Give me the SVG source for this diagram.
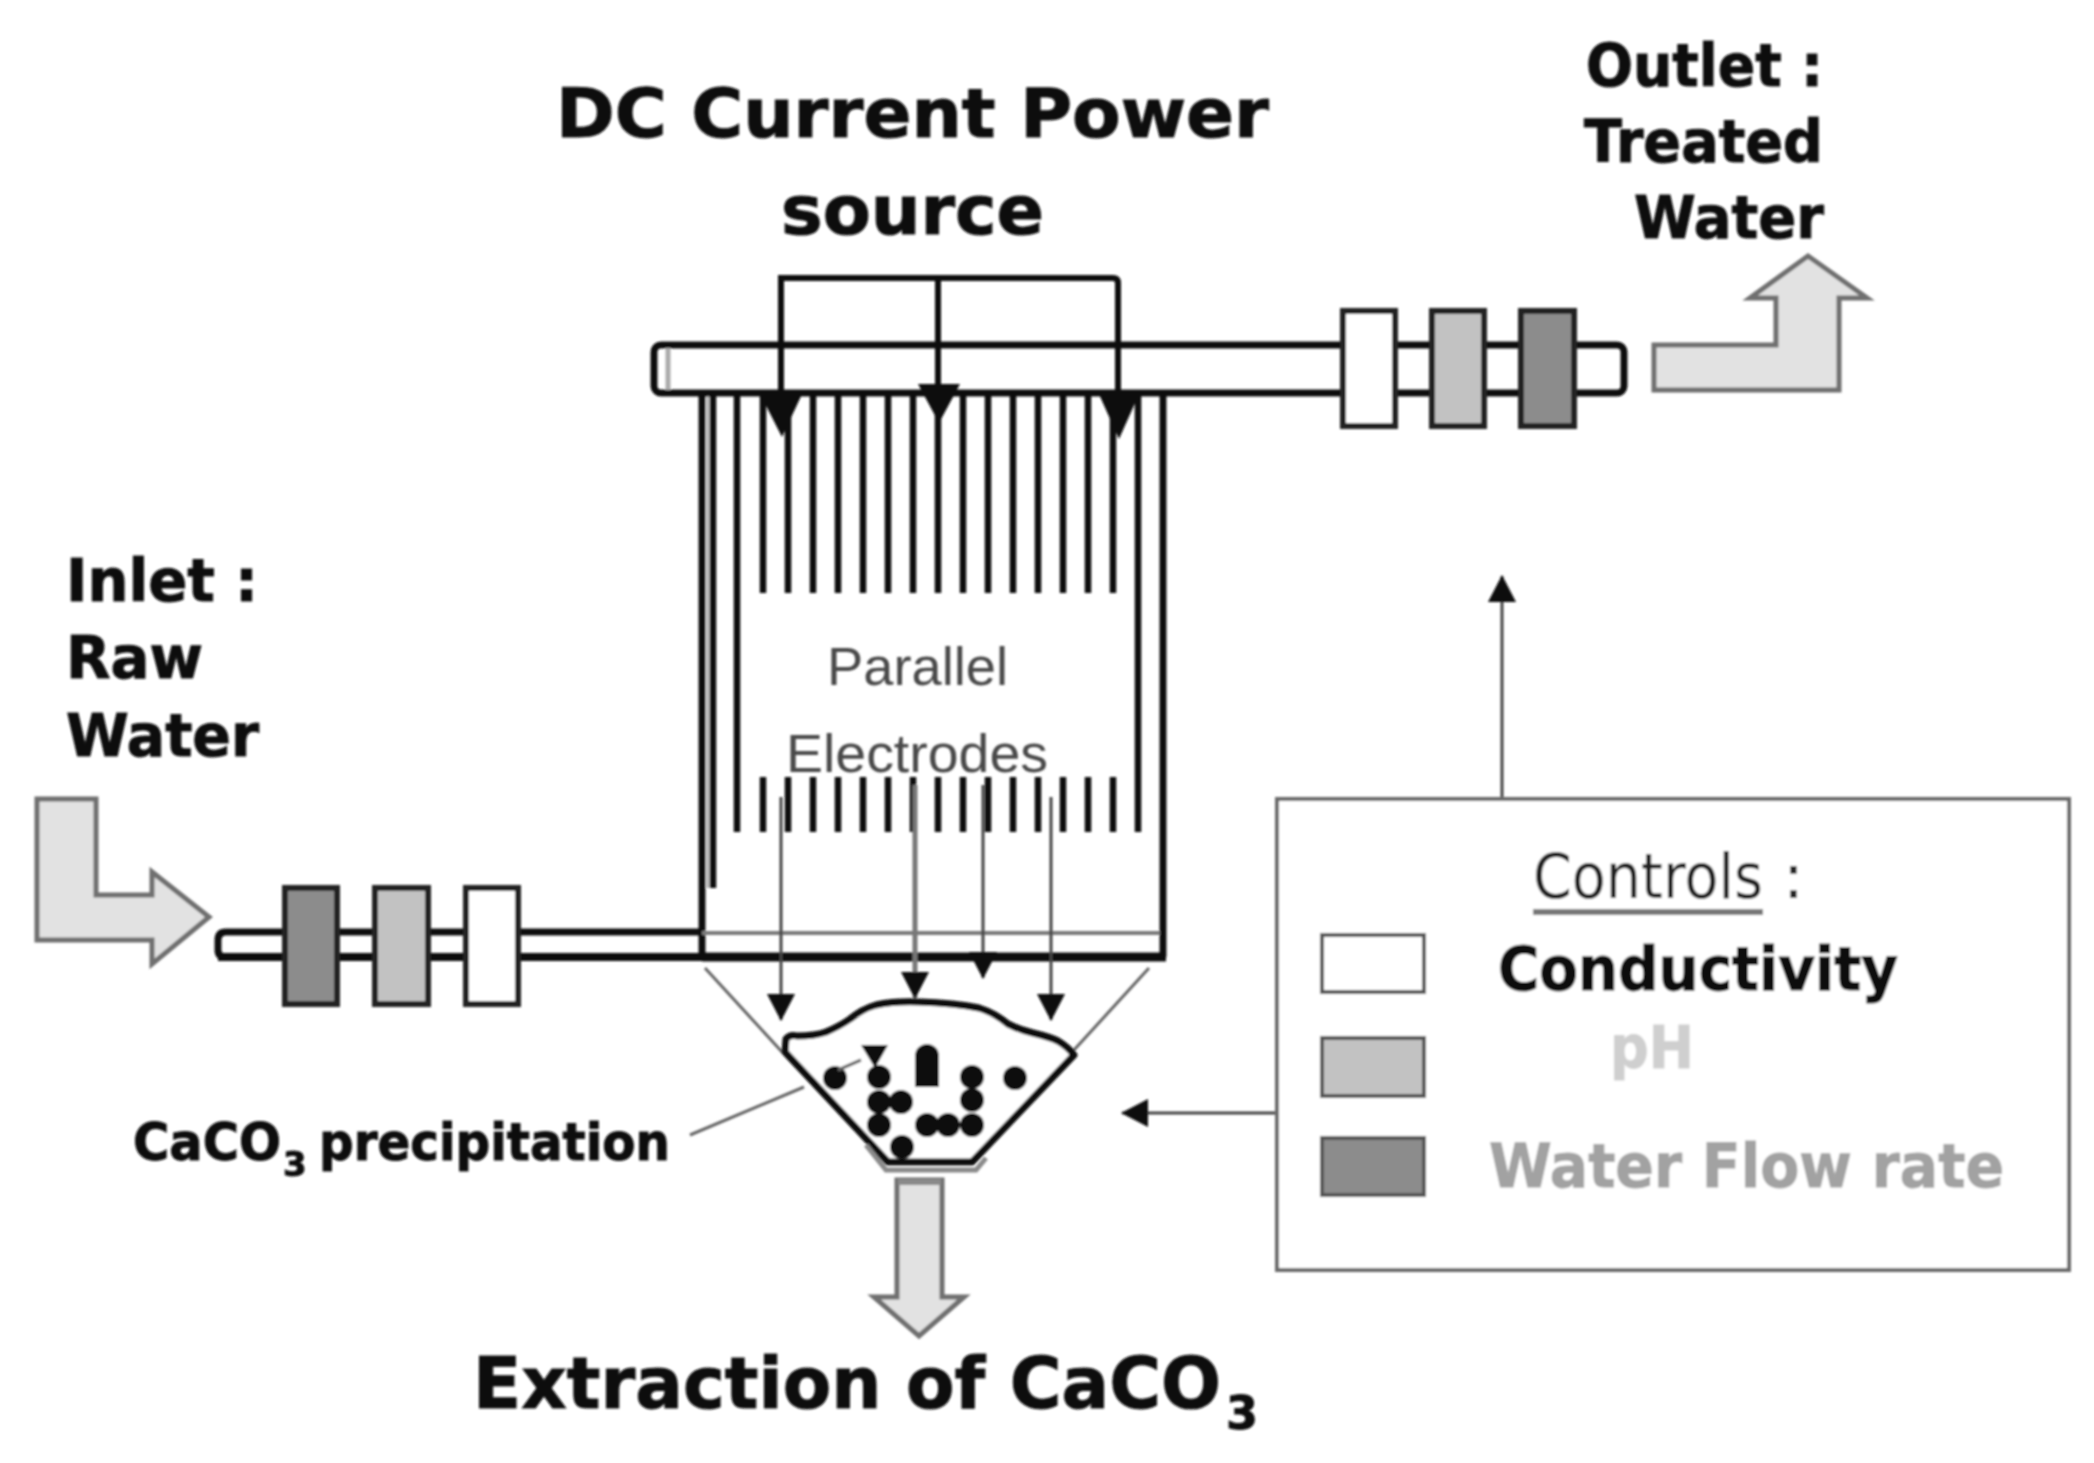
<svg xmlns="http://www.w3.org/2000/svg" width="2094" height="1463" viewBox="0 0 2094 1463">
<style>
.b{font-family:"DejaVu Sans",Verdana,sans-serif;font-weight:700;fill:#111;stroke:#111;stroke-width:1}
.h{font-family:"Liberation Sans",Arial,sans-serif;fill:#4a4a4a;font-size:54px}
.p{fill:none;stroke:#111;stroke-width:7;stroke-linejoin:round}
.e{stroke:#111;stroke-width:6.5;fill:none}
.w{stroke:#111;stroke-width:6;fill:none}
.t{stroke:#444;stroke-width:3;fill:none}
.big{fill:#e2e2e2;stroke:#6f6f6f;stroke-width:5;stroke-linejoin:miter}
.box{stroke:#222;stroke-width:6}
.s{stroke:#555;stroke-width:4}
.wh{fill:#fff}.gr{fill:#c2c2c2}.dk{fill:#8c8c8c}
</style>
<defs>
<filter id="soft" x="0" y="0" width="100%" height="100%" filterUnits="userSpaceOnUse"><feGaussianBlur stdDeviation="1.1"/></filter>
<marker id="ah" markerUnits="userSpaceOnUse" markerWidth="30" markerHeight="28" refX="26" refY="14" orient="auto"><path d="M0 0L27 14L0 28Z" fill="#111"/></marker>
</defs>
<rect width="2094" height="1463" fill="#fff"/>
<g filter="url(#soft)">
<g id="tank">
<path class="p" d="M702 392V957"/>
<path class="p" d="M1163 392V957"/>
<path d="M708 392V888" stroke="#b5b5b5" stroke-width="3"/>
<path class="e" d="M713 392V888M737 392V832M1138 392V832"/>
<path class="e" d="M763 392V593M788 392V593M813 392V593M838 392V593M863 392V593M888 392V593M913 392V593M938 392V593M963 392V593M988 392V593M1013 392V593M1038 392V593M1063 392V593M1088 392V593M1113 392V593"/>
<path class="e" d="M763 777V832M788 777V832M813 777V832M838 777V832M863 777V832M888 777V832M913 777V832M938 777V832M963 777V832M988 777V832M1013 777V832M1038 777V832M1063 777V832M1088 777V832M1113 777V832"/>
<path d="M702 933H1160" stroke="#7a7a7a" stroke-width="4"/>
<path d="M705 968L783 1053M1149 968L1074 1050" stroke="#666" stroke-width="3"/>
</g>
<g id="sediment">
<path d="M785 1052L786 1039Q790 1034 797 1036Q815 1036 826 1032Q840 1026 850 1019Q862 1009 876 1005Q895 1001 919 1002Q955 1003 979 1008Q995 1013 1008 1024Q1020 1030 1033 1033Q1050 1037 1058 1041Q1068 1047 1074 1055L972 1162H888Z" fill="#fff" stroke="#111" stroke-width="7" stroke-linejoin="round"/>
<path d="M866 1145L886 1170H976L986 1158" fill="none" stroke="#8a8a8a" stroke-width="5"/>
<path d="M861 1045H888L875 1068Z" fill="#111"/>
<g fill="#111">
<circle cx="835" cy="1078" r="12"/><circle cx="1015" cy="1078" r="12"/>
<circle cx="927" cy="1056" r="12"/><rect x="915" y="1056" width="24" height="31"/>
<circle cx="879" cy="1077" r="12"/><circle cx="879" cy="1102" r="12"/><circle cx="901" cy="1102" r="12"/><circle cx="879" cy="1125" r="12"/><circle cx="902" cy="1147" r="12"/>
<circle cx="927" cy="1125" r="12"/><circle cx="948" cy="1125" r="12"/><circle cx="972" cy="1125" r="12"/><circle cx="972" cy="1100" r="12"/><circle cx="972" cy="1077" r="12"/>
</g>
</g>
<g id="top-pipe">
<rect class="p" x="654" y="345" width="970" height="48" rx="7" fill="#fff"/>
<path d="M668 348V390" stroke="#aaa" stroke-width="5"/>
<rect class="box wh" x="1343" y="311" width="52" height="115"/>
<rect class="box gr" x="1432" y="311" width="52" height="115"/>
<rect class="box dk" x="1521" y="311" width="53" height="115"/>
</g>
<g id="inlet-pipe">
<path class="p" d="M702 932H226Q218 932 218 940V950Q218 957 226 957H1165" fill="#fff"/>
<path d="M702 957H1166" stroke="#111" stroke-width="9"/>
<path d="M218 957H702" stroke="#111" stroke-width="8"/>
<rect class="box dk" x="285" y="888" width="52" height="116"/>
<rect class="box gr" x="375" y="888" width="53" height="116"/>
<rect class="box wh" x="466" y="888" width="52" height="116"/>
</g>
<g id="inlet-arrow"><path class="big" d="M37 799H96V895H152V872L209 917L152 964V940H37Z"/></g>
<g id="outlet-arrow"><path class="big" d="M1654 345H1776V298H1750L1808 256L1867 298H1839V390H1654Z"/></g>
<g id="extraction-arrow"><path class="big" stroke-width="4" d="M897 1180H942V1297H964L919 1336L874 1297H897Z"/><path d="M898 1182H941" stroke="#8a8a8a" stroke-width="6"/></g>
<g id="connectors">
<path class="w" d="M781 392V278Q781 278 786 278H1113Q1118 278 1118 283V392M938 278V392"/>
<path d="M759 392H803L782 437ZM918 384H960L939 423ZM1098 392H1140L1119 439Z" fill="#111"/>
<path class="t" d="M781 797V1020" marker-end="url(#ah)"/>
<path stroke="#777" stroke-width="5" fill="none" d="M915 785V998" marker-end="url(#ah)"/>
<path class="t" d="M983 785V978" marker-end="url(#ah)"/>
<path class="t" d="M1051 797V1020" stroke="#666" marker-end="url(#ah)"/>
<path class="t" d="M1502 799V576" marker-end="url(#ah)"/>
<path class="t" d="M1278 1113H1122" marker-end="url(#ah)"/>
<path d="M690 1135L804 1087M838 1070L861 1060" stroke="#666" stroke-width="3" fill="none"/>
</g>
<g id="controls">
<rect x="1277" y="799" width="792" height="471" fill="#fff" stroke="#6a6a6a" stroke-width="4"/>
<path d="M1533 912H1763" stroke="#777" stroke-width="6"/>
<rect class="s wh" x="1322" y="935" width="102" height="57"/>
<rect class="s gr" x="1322" y="1038" width="102" height="58"/>
<rect class="s dk" x="1322" y="1138" width="102" height="57"/>
<text x="1533" y="898" font-family="'DejaVu Sans',sans-serif" font-size="62" fill="#222" textLength="230" lengthAdjust="spacingAndGlyphs">Controls</text>
<text x="1783" y="898" font-family="'DejaVu Sans',sans-serif" font-size="62" fill="#222">:</text>
<text class="b" x="1498" y="990" font-size="60" textLength="400" lengthAdjust="spacingAndGlyphs">Conductivity</text>
<text class="b" x="1610" y="1068" font-size="58" style="fill:#cfcfcf;stroke:#cfcfcf" textLength="84" lengthAdjust="spacingAndGlyphs">pH</text>
<text class="b" x="1489" y="1187" font-size="60" style="fill:#a2a2a2;stroke:#a2a2a2" textLength="515" lengthAdjust="spacingAndGlyphs">Water Flow rate</text>
</g>
<g id="labels">
<text class="b" x="556" y="137" font-size="68" textLength="713" lengthAdjust="spacingAndGlyphs">DC Current Power</text>
<text class="b" x="781" y="234" font-size="68" textLength="263" lengthAdjust="spacingAndGlyphs">source</text>
<text class="b" x="1586" y="86" font-size="58" textLength="237" lengthAdjust="spacingAndGlyphs">Outlet :</text>
<text class="b" x="1584" y="162" font-size="58" textLength="239" lengthAdjust="spacingAndGlyphs">Treated</text>
<text class="b" x="1634" y="238" font-size="58" textLength="190" lengthAdjust="spacingAndGlyphs">Water</text>
<text class="b" x="66" y="601" font-size="58" textLength="192" lengthAdjust="spacingAndGlyphs">Inlet :</text>
<text class="b" x="66" y="678" font-size="58" textLength="137" lengthAdjust="spacingAndGlyphs">Raw</text>
<text class="b" x="66" y="756" font-size="58" textLength="193" lengthAdjust="spacingAndGlyphs">Water</text>
<text class="h" x="827" y="685" textLength="181" lengthAdjust="spacingAndGlyphs">Parallel</text>
<text class="h" x="786" y="772" textLength="262" lengthAdjust="spacingAndGlyphs">Electrodes</text>
<text class="b" x="133" y="1160" font-size="52" textLength="148" lengthAdjust="spacingAndGlyphs">CaCO</text>
<text class="b" x="283" y="1176" font-size="34">3</text>
<text class="b" x="319" y="1160" font-size="52" textLength="351" lengthAdjust="spacingAndGlyphs">precipitation</text>
<text class="b" x="473" y="1408" font-size="72" textLength="748" lengthAdjust="spacingAndGlyphs">Extraction of CaCO</text>
<text class="b" x="1226" y="1429" font-size="46">3</text>
</g>
</g>
</svg>
